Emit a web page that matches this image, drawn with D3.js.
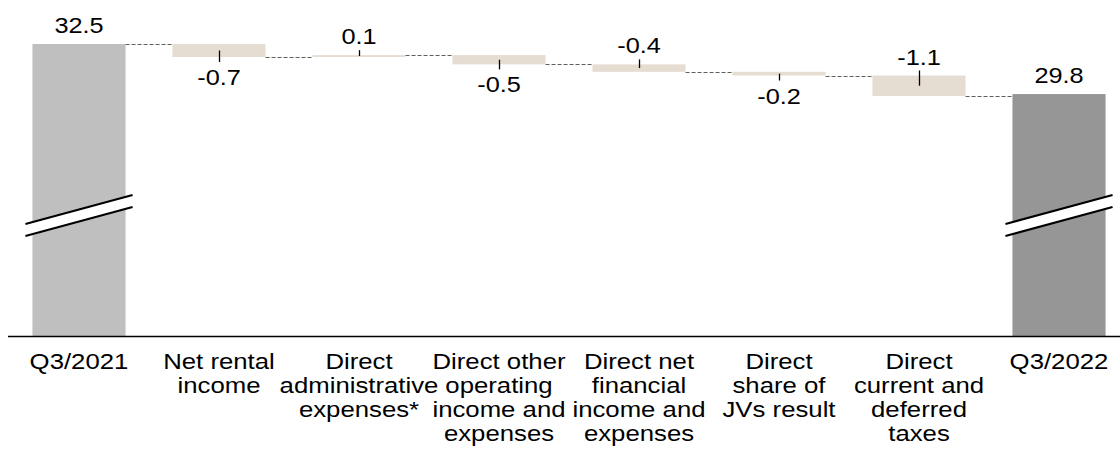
<!DOCTYPE html>
<html>
<head>
<meta charset="utf-8">
<script src="https://cdn.jsdelivr.net/npm/d3@7"></script>
<style>
  html, body { margin: 0; padding: 0; background: #fff; }
  svg { display: block; }
  text { font-family: "Liberation Sans", Arial, sans-serif; fill: #000; }
</style>
</head>
<body>
<svg id="chart" width="1120" height="463"></svg>
<script>
// Category labels, one entry per bar, split into display lines
const categories = [
  ["Q3/2021"],
  ["Net rental", "income"],
  ["Direct", "administrative", "expenses*"],
  ["Direct other", "operating", "income and", "expenses"],
  ["Direct net", "financial", "income and", "expenses"],
  ["Direct", "share of", "JVs result"],
  ["Direct", "current and", "deferred", "taxes"],
  ["Q3/2022"]
];
const startValue = 32.5;
const endValue = 29.8;
const changes = [-0.7, 0.1, -0.5, -0.4, -0.2, -1.1];
// which side of each change bar its label sits on
const labelSide = ["below", "above", "below", "above", "below", "above"];

const W = 1120, H = 463;
const baseY = 336;
const valueStretch = 1.15;  // glyphs are drawn slightly wide
const catStretch = 1.12;
const svg = d3.select("#chart");

const keys = categories.map((c, i) => i);
const x = d3.scaleBand().domain(keys).range([9, 1129])
  .paddingInner(0.335).paddingOuter(0.1675);
// broken value axis: floor of the visible range sits on the baseline
const y = d3.scaleLinear().domain([16.75, 32.5]).range([baseY, 44]);

// build waterfall segments
const segs = [];
segs.push({ i: 0, from: y.domain()[0], to: startValue, kind: "total", fill: "#bfbfbf", label: startValue });
let run = startValue;
changes.forEach((d, k) => {
  segs.push({ i: k + 1, from: run, to: run + d, kind: "step", fill: "#e5dcd2", label: d, side: labelSide[k] });
  run += d;
});
segs.push({ i: categories.length - 1, from: y.domain()[0], to: endValue, kind: "total", fill: "#969696", label: endValue });

const fmt = v => v.toFixed(1);
const cx = d => x(d.i) + x.bandwidth() / 2;

function valueText(px, py, str) {
  return svg.append("text")
    .attr("transform", `translate(${px},${py}) scale(${valueStretch},1)`)
    .attr("text-anchor", "middle")
    .attr("font-size", 22)
    .text(str);
}

// bars
svg.append("g").selectAll("rect").data(segs).join("rect")
  .attr("x", d => x(d.i))
  .attr("width", x.bandwidth())
  .attr("y", d => y(Math.max(d.from, d.to)))
  .attr("height", d => Math.abs(y(d.from) - y(d.to)))
  .attr("fill", d => d.fill);

// dashed connectors between consecutive bars
const conn = [];
for (let k = 0; k < segs.length - 1; k++) {
  conn.push({ x1: x(segs[k].i) + x.bandwidth(), x2: x(segs[k + 1].i), v: segs[k].to });
}
svg.append("g").selectAll("line").data(conn).join("line")
  .attr("x1", d => d.x1).attr("x2", d => d.x2)
  .attr("y1", d => Math.round(y(d.v)) + 0.5).attr("y2", d => Math.round(y(d.v)) + 0.5)
  .attr("stroke", "#5f5f5f").attr("stroke-width", 1.2)
  .attr("stroke-dasharray", "4,2");

// leader ticks and labels for change bars
segs.filter(d => d.kind === "step").forEach(d => {
  const top = y(Math.max(d.from, d.to));
  const bot = y(Math.min(d.from, d.to));
  const mid = (top + bot) / 2;
  const end = d.side === "above" ? top - 5 : bot + 5;
  svg.append("line")
    .attr("x1", Math.round(cx(d)) + 0.5).attr("x2", Math.round(cx(d)) + 0.5)
    .attr("y1", mid).attr("y2", end)
    .attr("stroke", "#000").attr("stroke-width", 1.3);
  valueText(cx(d), d.side === "above" ? end - 6 : end + 23, fmt(d.label));
});

// total labels
segs.filter(d => d.kind === "total").forEach(d => {
  valueText(cx(d), y(d.to) - 11.5, fmt(d.label));
});

// axis break marks on the total bars
segs.filter(d => d.kind === "total").forEach(d => {
  const x0 = x(d.i) - 7, x1 = x(d.i) + x.bandwidth() + 7;
  const g = svg.append("g");
  g.append("polygon")
    .attr("points", [[x0, 224], [x1, 195], [x1, 207], [x0, 236]].map(p => p.join(",")).join(" "))
    .attr("fill", "#fff");
  [[224, 195], [236, 207]].forEach(([a, b]) => {
    g.append("line").attr("x1", x0).attr("y1", a).attr("x2", x1).attr("y2", b)
      .attr("stroke", "#000").attr("stroke-width", 2);
  });
});

// baseline
svg.append("line")
  .attr("x1", 8).attr("x2", W)
  .attr("y1", baseY + 0.5).attr("y2", baseY + 0.5)
  .attr("stroke", "#000").attr("stroke-width", 1.3);

// category labels
categories.forEach((lines, i) => {
  const t = svg.append("text")
    .attr("transform", `translate(${x(i) + x.bandwidth() / 2},0) scale(${catStretch},1)`)
    .attr("text-anchor", "middle")
    .attr("font-size", 23);
  lines.forEach((ln, j) => {
    t.append("tspan").attr("x", 0).attr("y", 369.5 + j * 24).text(ln);
  });
});
</script>
</body>
</html>
